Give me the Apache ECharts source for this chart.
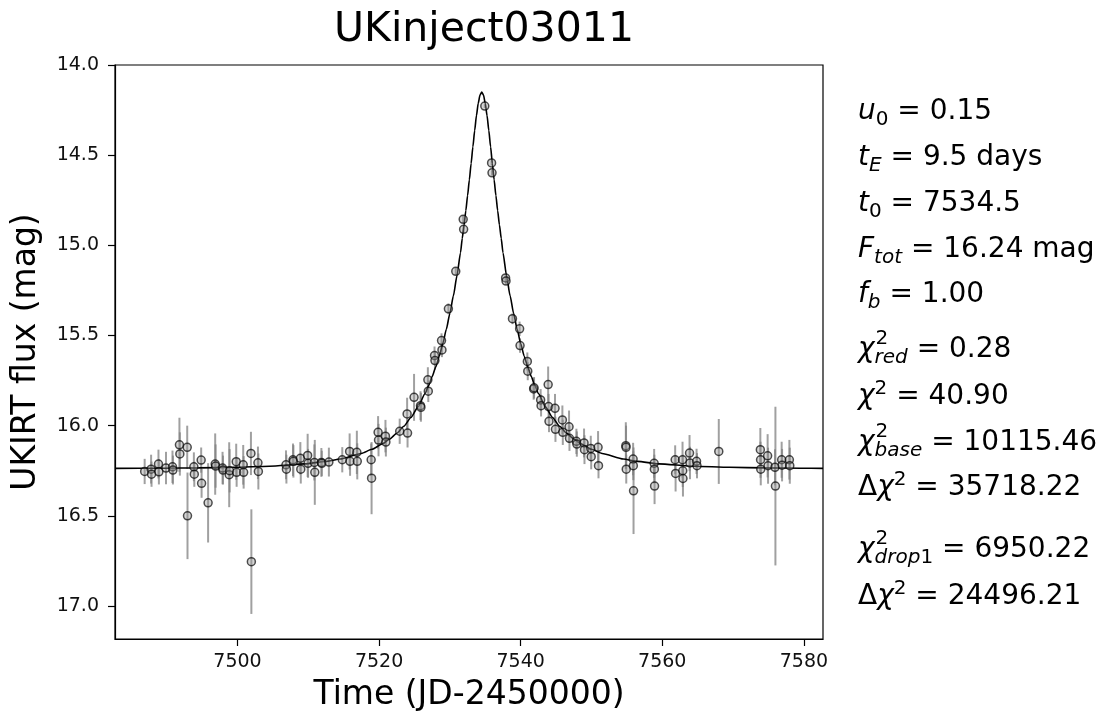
<!DOCTYPE html>
<html><head><meta charset="utf-8">
<script src="https://cdn.jsdelivr.net/npm/echarts@6/dist/echarts.min.js"></script>
<style>html,body{margin:0;padding:0;background:#fff;}#c{width:1109px;height:717px;}</style>
</head><body><div id="c"></div>
<script>
// ---- data ----
const obsTime = [7486.89,7487.80,7487.86,7488.84,7488.90,7489.90,7490.82,7490.88,7491.80,7491.86,7492.90,7492.94,7493.84,7493.90,7494.87,7494.93,7495.85,7496.85,7496.91,7497.89,7497.95,7498.83,7498.89,7499.82,7499.88,7500.81,7500.87,7501.90,7501.96,7502.89,7502.95,7506.85,7506.91,7507.84,7507.90,7508.88,7508.94,7509.91,7509.97,7510.86,7510.92,7511.85,7511.91,7512.91,7514.80,7515.84,7515.90,7516.86,7516.92,7518.88,7518.94,7519.86,7519.92,7520.90,7520.96,7522.91,7523.96,7524.02,7524.94,7525.85,7525.91,7526.89,7526.95,7527.83,7527.89,7528.82,7528.88,7529.79,7530.83,7531.88,7531.94,7534.93,7535.89,7535.95,7537.87,7537.93,7538.84,7539.85,7539.91,7540.94,7541.00,7541.83,7541.89,7542.82,7542.88,7543.88,7543.94,7544.00,7544.85,7544.91,7545.89,7545.95,7546.83,7546.89,7547.87,7547.93,7548.95,7549.01,7549.90,7549.96,7550.93,7550.99,7554.85,7554.88,7554.91,7555.88,7555.91,7555.94,7558.85,7558.88,7558.91,7561.82,7561.88,7562.86,7562.89,7562.92,7563.85,7563.91,7564.84,7564.90,7567.98,7573.85,7573.88,7573.91,7574.88,7574.94,7575.92,7575.98,7576.86,7576.92,7577.95,7578.01];
const obsMag = [16.254,16.241,16.269,16.213,16.256,16.235,16.228,16.246,16.106,16.157,16.120,16.500,16.228,16.269,16.191,16.320,16.428,16.213,16.224,16.235,16.246,16.272,16.250,16.200,16.259,16.217,16.259,16.154,16.754,16.206,16.254,16.217,16.241,16.189,16.198,16.181,16.241,16.165,16.209,16.204,16.259,16.204,16.209,16.202,16.189,16.143,16.198,16.148,16.198,16.189,16.291,16.037,16.080,16.058,16.091,16.031,15.935,16.041,15.843,15.889,15.898,15.746,15.809,15.611,15.639,15.528,15.580,15.352,15.144,14.856,14.911,14.228,14.543,14.598,15.181,15.198,15.407,15.463,15.556,15.644,15.698,15.796,15.790,15.857,15.889,15.772,15.894,15.976,15.904,16.020,15.968,16.037,16.006,16.070,16.087,16.102,16.096,16.133,16.126,16.172,16.120,16.222,16.111,16.120,16.241,16.185,16.222,16.361,16.209,16.241,16.335,16.189,16.265,16.189,16.250,16.293,16.152,16.207,16.198,16.222,16.143,16.133,16.189,16.241,16.167,16.222,16.231,16.335,16.189,16.219,16.189,16.222];
const obsErr = [0.07,0.08,0.07,0.08,0.07,0.09,0.09,0.08,0.15,0.12,0.12,0.24,0.08,0.07,0.07,0.08,0.22,0.17,0.12,0.09,0.08,0.18,0.12,0.10,0.08,0.11,0.09,0.12,0.29,0.09,0.10,0.08,0.08,0.09,0.09,0.09,0.08,0.12,0.08,0.10,0.18,0.08,0.07,0.08,0.07,0.10,0.08,0.12,0.10,0.09,0.20,0.09,0.09,0.09,0.08,0.07,0.09,0.08,0.13,0.08,0.08,0.07,0.06,0.05,0.05,0.04,0.04,0.03,0.02,0.02,0.02,0.01,0.015,0.015,0.02,0.02,0.03,0.04,0.04,0.05,0.05,0.06,0.06,0.06,0.06,0.10,0.07,0.06,0.08,0.07,0.08,0.07,0.09,0.07,0.07,0.07,0.08,0.08,0.07,0.07,0.09,0.07,0.13,0.12,0.08,0.09,0.08,0.24,0.08,0.08,0.10,0.08,0.10,0.10,0.09,0.10,0.10,0.09,0.07,0.07,0.18,0.12,0.10,0.09,0.12,0.10,0.10,0.44,0.10,0.09,0.11,0.10];
const modelTime = [7482.7,7489.5,7494.5,7499.5,7504.5,7509.5,7512.5,7514.5,7517.5,7519,7520.5,7521.5,7522.5,7523.5,7524.5,7525.5,7526.5,7527,7527.5,7528,7528.5,7529,7529.5,7530,7530.5,7531,7531.5,7531.75,7532,7532.25,7532.5,7532.75,7533,7533.25,7533.5,7533.75,7534,7534.25,7534.5,7534.75,7535,7535.25,7535.5,7535.75,7536,7536.25,7536.5,7536.75,7537,7537.25,7537.5,7538,7538.5,7539,7539.5,7540,7540.5,7541,7541.5,7542,7542.5,7543.5,7544.5,7545.5,7546.5,7547.5,7548.5,7550,7551.5,7554.5,7556.5,7559.5,7564.5,7569.5,7574.5,7579.5,7582.7];
const modelMag = [16.237,16.236,16.234,16.231,16.225,16.212,16.198,16.185,16.154,16.131,16.100,16.074,16.042,16.003,15.955,15.896,15.822,15.778,15.728,15.675,15.615,15.545,15.465,15.377,15.279,15.168,15.041,14.961,14.887,14.808,14.724,14.637,14.546,14.454,14.364,14.281,14.213,14.167,14.150,14.167,14.213,14.281,14.364,14.454,14.546,14.637,14.724,14.808,14.887,14.961,15.041,15.168,15.279,15.377,15.465,15.545,15.615,15.675,15.728,15.778,15.822,15.896,15.955,16.003,16.042,16.074,16.100,16.131,16.154,16.185,16.198,16.212,16.225,16.231,16.234,16.236,16.237];
const xTicks = [7500,7520,7540,7560,7580];
const yTicks = [14.0,14.5,15.0,15.5,16.0,16.5,17.0];
const titleText = 'UKinject03011';
const xName = 'Time (JD-2450000)';
const yName = 'UKIRT flux (mag)';

// ---- build ----
const FF = '"DejaVu Sans", sans-serif';
const scatterData = obsTime.map((t,i)=>[t, obsMag[i]]);
const barData = obsTime.map((t,i)=>[t, obsMag[i]-obsErr[i], obsMag[i]+obsErr[i]]);
const modelData = modelTime.map((t,i)=>[t, modelMag[i]]);

const chart = echarts.init(document.getElementById('c'), null, {renderer:'canvas'});

const FS = 28;
const rich = {
  v:{fontFamily:FF, fontStyle:'italic', fontSize:FS, lineHeight:36, fill:'#000'},
  r:{fontFamily:FF, fontSize:FS, lineHeight:36, fill:'#000'},
  s:{fontFamily:FF, fontStyle:'italic', fontSize:20, lineHeight:20, verticalAlign:'bottom', fill:'#000'},
  sn:{fontFamily:FF, fontSize:20, lineHeight:20, verticalAlign:'bottom', fill:'#000'},
  s2:{fontFamily:FF, fontStyle:'italic', fontSize:20, lineHeight:14, verticalAlign:'bottom', fill:'#000'},
  sn2:{fontFamily:FF, fontSize:20, lineHeight:14, verticalAlign:'bottom', fill:'#000'},
  p:{fontFamily:FF, fontSize:20, lineHeight:14, verticalAlign:'top', fill:'#000'}
};
const ctx = document.createElement('canvas').getContext('2d');
ctx.font = 'italic ' + FS + 'px "DejaVu Sans"';
const chiW = ctx.measureText('χ').width;

const TX = 858;
const lines = [
  [112, '{v|u}{sn|0}{r| = 0.15}'],
  [158, '{v|t}{s|E}{r| = 9.5 days}'],
  [204, '{v|t}{sn|0}{r| = 7534.5}'],
  [250, '{v|F}{s|tot}{r| = 16.24 mag}'],
  [295, '{v|f}{s|b}{r| = 1.00}'],
  [350, '{v|χ}{s2|red}{r| = 0.28}', true],
  [397, '{v|χ}{p|2}{r| = 40.90}'],
  [443, '{v|χ}{s2|base}{r| = 10115.46}', true],
  [488, '{r|Δ}{v|χ}{p|2}{r| = 35718.22}'],
  [550, '{v|χ}{s2|drop}{sn2|1}{r| = 6950.22}', true],
  [597, '{r|Δ}{v|χ}{p|2}{r| = 24496.21}']
];
const graphics = [];
lines.forEach(l=>{
  graphics.push({type:'text', x:TX, y:l[0], style:{text:l[1], rich:rich, verticalAlign:'middle', align:'left', fill:'#000'}});
  if (l[2]) {
    graphics.push({type:'text', x:TX+chiW+1, y:l[0]-11, style:{text:'2', font:'20px "DejaVu Sans"', verticalAlign:'middle', align:'left', fill:'#000'}});
  }
});

const option = {
  animation:false,
  backgroundColor:'#fff',
  title:{text:titleText, left:479, textAlign:'center', top:5,
    textStyle:{fontFamily:FF, fontSize:41, fontWeight:'normal', color:'#000'}},
  grid:{left:115, right:286, top:65, bottom:78, show:true, borderColor:'#000', borderWidth:1.2, backgroundColor:'transparent'},
  xAxis:{type:'value', min:7482.7, max:7582.7,
    name:xName, nameLocation:'middle', nameGap:40,
    nameTextStyle:{fontFamily:FF, fontSize:33, color:'#000'},
    axisLine:{show:true, lineStyle:{color:'#000', width:1.2}},
    axisTick:{show:true, length:7, customValues:xTicks, lineStyle:{color:'#000', width:1.2}},
    axisLabel:{customValues:xTicks, formatter:v=>String(v), fontFamily:FF, fontSize:19, color:'#111', margin:14},
    splitLine:{show:false}},
  yAxis:{type:'value', inverse:true, min:14.0, max:17.183,
    name:yName, nameLocation:'middle', nameGap:72, nameRotate:90,
    nameTextStyle:{fontFamily:FF, fontSize:33, color:'#000'},
    axisLine:{show:true, lineStyle:{color:'#000', width:1.2}},
    axisTick:{show:true, length:7, customValues:yTicks, lineStyle:{color:'#000', width:1.2}},
    axisLabel:{customValues:yTicks, formatter:v=>Number(v).toFixed(1), fontFamily:FF, fontSize:19, color:'#111', margin:16},
    splitLine:{show:false}},
  graphic:graphics,
  series:[
    {type:'custom', z:1, data:barData, encode:{x:0, y:[1,2]},
      renderItem:(params, api)=>{
        const p1 = api.coord([api.value(0), api.value(1)]);
        const p2 = api.coord([api.value(0), api.value(2)]);
        return {type:'line', shape:{x1:p1[0], y1:p1[1], x2:p2[0], y2:p2[1]},
          style:{stroke:'rgba(128,128,128,0.75)', lineWidth:2}};
      }},
    {type:'line', z:2, data:modelData, showSymbol:false, smooth:0.2, smoothMonotone:'x',
      lineStyle:{color:'#000', width:1.6}},
    {type:'scatter', z:3, data:scatterData, symbol:'circle', symbolSize:8,
      itemStyle:{color:'rgba(150,150,150,0.5)', borderColor:'rgba(0,0,0,0.85)', borderWidth:1.5}}
  ]
};
chart.setOption(option);
</script>
</body></html>
